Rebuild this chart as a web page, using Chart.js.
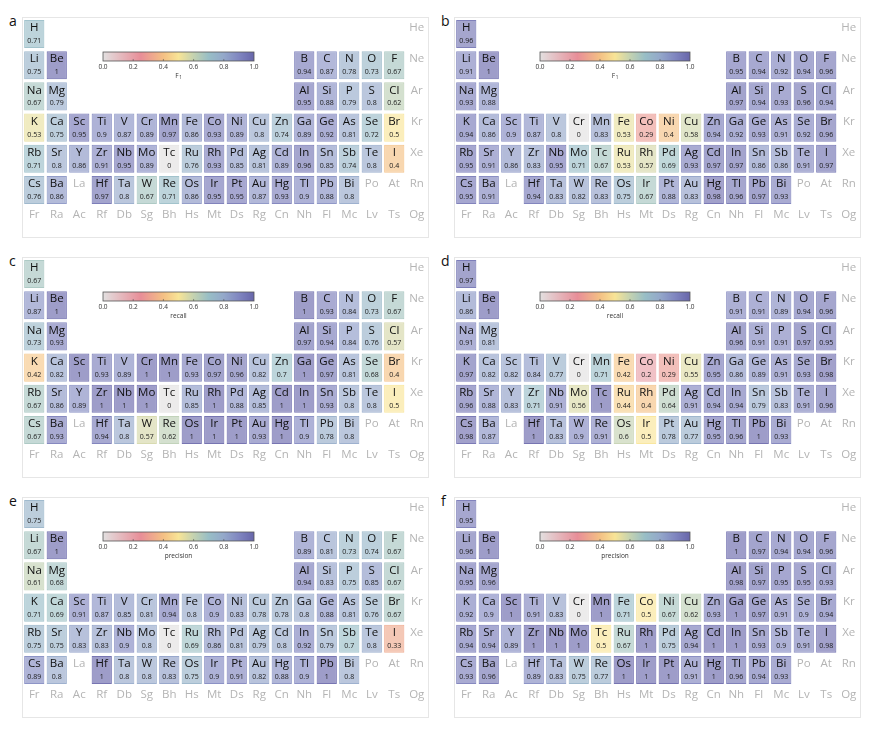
<!DOCTYPE html>
<html>
<head>
<meta charset="utf-8">
<script src="https://cdn.jsdelivr.net/npm/chart.js@4.4.0/dist/chart.umd.min.js"></script>
<style>
  body { margin: 0; background: #fff; font-family: "Open Sans", sans-serif; }
  .panel { position: absolute; border: 1px solid #e6e6e6; width: 405px; height: 219px; }
  .panel canvas { display: block; }
  .tag { position: absolute; font-size: 14px; line-height: 14px; color: #111; }
</style>
</head>
<body>
<script>
// columns of the periodic table (groups 1..18)
const columns = ["1","2","3","4","5","6","7","8","9","10","11","12","13","14","15","16","17","18"];

// elements that carry a score, row by row
const symbols = [
  "H",
  "Li","Be","B","C","N","O","F",
  "Na","Mg","Al","Si","P","S","Cl",
  "K","Ca","Sc","Ti","V","Cr","Mn","Fe","Co","Ni","Cu","Zn","Ga","Ge","As","Se","Br",
  "Rb","Sr","Y","Zr","Nb","Mo","Tc","Ru","Rh","Pd","Ag","Cd","In","Sn","Sb","Te","I",
  "Cs","Ba","Hf","Ta","W","Re","Os","Ir","Pt","Au","Hg","Tl","Pb","Bi"
];
const groups = [
  1,
  1,2,13,14,15,16,17,
  1,2,13,14,15,16,17,
  1,2,3,4,5,6,7,8,9,10,11,12,13,14,15,16,17,
  1,2,3,4,5,6,7,8,9,10,11,12,13,14,15,16,17,
  1,2,4,5,6,7,8,9,10,11,12,13,14,15
];
const periods = [
  1,
  2,2,2,2,2,2,2,
  3,3,3,3,3,3,3,
  4,4,4,4,4,4,4,4,4,4,4,4,4,4,4,4,4,
  5,5,5,5,5,5,5,5,5,5,5,5,5,5,5,5,5,
  6,6,6,6,6,6,6,6,6,6,6,6,6,6
];

// elements without a score (grey labels only)
const ghostSymbols = ["He","Ne","Ar","Kr","Xe","La","Po","At","Rn",
  "Fr","Ra","Ac","Rf","Db","Sg","Bh","Hs","Mt","Ds","Rg","Cn","Nh","Fl","Mc","Lv","Ts","Og"];
const ghostGroups = [18,18,18,18,18,3,16,17,18,
  1,2,3,4,5,6,7,8,9,10,11,12,13,14,15,16,17,18];
const ghostPeriods = [1,2,3,4,5,6,6,6,6,
  7,7,7,7,7,7,7,7,7,7,7,7,7,7,7,7,7,7];

// scores
const f1A = [
  0.71,
  0.75,1,0.94,0.87,0.78,0.73,0.67,
  0.67,0.79,0.95,0.88,0.79,0.8,0.62,
  0.53,0.75,0.95,0.9,0.87,0.89,0.97,0.86,0.93,0.89,0.8,0.74,0.89,0.92,0.81,0.72,0.5,
  0.71,0.8,0.86,0.91,0.95,0.89,0,0.76,0.93,0.85,0.81,0.89,0.96,0.85,0.74,0.8,0.4,
  0.76,0.86,0.97,0.8,0.67,0.71,0.86,0.95,0.95,0.87,0.93,0.9,0.88,0.8
];
const f1B = [
  0.96,
  0.91,1,0.95,0.94,0.92,0.94,0.96,
  0.93,0.88,0.97,0.94,0.93,0.96,0.94,
  0.94,0.86,0.9,0.87,0.8,0,0.83,0.53,0.29,0.4,0.58,0.94,0.92,0.93,0.91,0.92,0.96,
  0.95,0.91,0.86,0.83,0.95,0.71,0.67,0.53,0.57,0.69,0.93,0.97,0.97,0.86,0.86,0.91,0.97,
  0.95,0.91,0.94,0.83,0.82,0.83,0.75,0.67,0.88,0.83,0.98,0.96,0.97,0.93
];
const recallC = [
  0.67,
  0.87,1,1,0.93,0.84,0.73,0.67,
  0.73,0.93,0.97,0.94,0.84,0.76,0.57,
  0.42,0.82,1,0.93,0.89,1,1,0.93,0.97,0.96,0.82,0.7,1,0.97,0.81,0.68,0.4,
  0.67,0.86,0.89,1,1,1,0,0.85,1,0.88,0.85,1,1,0.93,0.8,0.8,0.5,
  0.67,0.93,0.94,0.8,0.57,0.62,1,1,1,0.93,1,0.9,0.78,0.8
];
const recallD = [
  0.97,
  0.86,1,0.91,0.91,0.89,0.94,0.96,
  0.91,0.81,0.96,0.91,0.91,0.97,0.95,
  0.97,0.82,0.82,0.84,0.77,0,0.71,0.42,0.2,0.29,0.55,0.95,0.86,0.89,0.91,0.93,0.98,
  0.96,0.88,0.83,0.71,0.91,0.56,1,0.44,0.4,0.64,0.91,0.94,0.94,0.79,0.83,0.91,0.96,
  0.98,0.87,1,0.83,0.9,0.91,0.6,0.5,0.78,0.77,0.95,0.96,1,0.93
];
const precisionE = [
  0.75,
  0.67,1,0.89,0.81,0.73,0.74,0.67,
  0.61,0.68,0.94,0.83,0.75,0.85,0.67,
  0.71,0.69,0.91,0.87,0.85,0.81,0.94,0.8,0.9,0.83,0.78,0.78,0.8,0.88,0.81,0.76,0.67,
  0.75,0.75,0.83,0.83,0.9,0.8,0,0.69,0.86,0.81,0.79,0.8,0.92,0.79,0.7,0.8,0.33,
  0.89,0.8,1,0.8,0.8,0.83,0.75,0.9,0.91,0.82,0.88,0.9,1,0.8
];
const precisionF = [
  0.95,
  0.96,1,1,0.97,0.94,0.94,0.96,
  0.95,0.96,0.98,0.97,0.95,0.95,0.93,
  0.92,0.9,1,0.91,0.83,0,1,0.71,0.5,0.67,0.62,0.93,1,0.97,0.91,0.9,0.94,
  0.94,0.94,0.89,1,1,1,0.5,0.67,1,0.75,0.94,1,1,0.93,0.9,0.91,0.98,
  0.93,0.96,0.89,0.83,0.75,0.77,1,1,1,0.91,1,0.96,0.94,0.93
];

const colorbarTicks = [0, 0.2, 0.4, 0.6, 0.8, 1];

// colormap: grey -> pink -> peach -> yellow -> sage -> teal -> slate -> purple
const cmap = [
  [0.0, [226, 224, 224]],
  [0.25, [232, 142, 152]],
  [0.4, [244, 192, 132]],
  [0.5, [248, 228, 150]],
  [0.6, [196, 210, 176]],
  [0.7, [152, 190, 198]],
  [0.8, [148, 168, 202]],
  [0.9, [128, 134, 192]],
  [1.0, [104, 102, 170]]
];
function colorAt(v) {
  for (let i = 1; i < cmap.length; i++) {
    if (v <= cmap[i][0]) {
      const [a, ca] = cmap[i - 1], [b, cb] = cmap[i];
      const t = (v - a) / (b - a);
      return ca.map((c, k) => Math.round(c + (cb[k] - c) * t));
    }
  }
  return cmap[cmap.length - 1][1];
}
const rgba = (c, a) => `rgba(${c[0]},${c[1]},${c[2]},${a})`;

// row positions used for the colour bar (in period units)
const CB_TOP = 1.577, CB_BOT = 1.865, CB_LABEL = 2.05, CB_TITLE = 2.34;

function tablePlugin(values, title, cbar) {
  return {
    id: "tableText",
    afterDatasetsDraw(chart) {
      const { ctx, scales: { x, y } } = chart;
      ctx.save();
      ctx.textAlign = "center";
      ctx.textBaseline = "middle";

      // symbols + scores
      values.forEach((v, i) => {
        const px = x.getPixelForValue(groups[i] - 1);
        const py = y.getPixelForValue(periods[i]);
        ctx.fillStyle = "#111";
        ctx.font = '11.5px "Open Sans"';
        ctx.fillText(symbols[i], px, py - 6);
        ctx.fillStyle = "#1a1a1a";
        ctx.font = '7px "Open Sans"';
        ctx.fillText(String(v), px, py + 7);
      });

      // grey labels
      ctx.fillStyle = "#b4b4b4";
      ctx.font = '11.5px "Open Sans"';
      ghostSymbols.forEach((s, i) => {
        ctx.fillText(s, x.getPixelForValue(ghostGroups[i] - 1), y.getPixelForValue(ghostPeriods[i]) - 6);
      });

      // colour bar
      const x0 = x.getPixelForValue(cbar[0]), x1 = x.getPixelForValue(cbar[1]);
      const y0 = y.getPixelForValue(CB_TOP), y1 = y.getPixelForValue(CB_BOT);
      const grad = ctx.createLinearGradient(x0, 0, x1, 0);
      cmap.forEach(([s, c]) => grad.addColorStop(s, rgba(c, 1)));
      ctx.fillStyle = grad;
      ctx.fillRect(x0, y0, x1 - x0, y1 - y0);
      ctx.strokeStyle = "#555";
      ctx.lineWidth = 0.8;
      ctx.strokeRect(x0, y0, x1 - x0, y1 - y0);

      const yl = y.getPixelForValue(CB_LABEL);
      ctx.fillStyle = "#333";
      ctx.font = '6.5px "Open Sans"';
      colorbarTicks.forEach(t => {
        const tx = x0 + t * (x1 - x0);
        if (t > 0 && t < 1) {
          ctx.beginPath();
          ctx.moveTo(tx, y1);
          ctx.lineTo(tx, y1 - 2);
          ctx.lineWidth = 0.6;
          ctx.stroke();
        }
        ctx.fillText(t.toFixed(1), tx, yl);
      });

      const yt = y.getPixelForValue(CB_TITLE);
      const xm = (x0 + x1) / 2;
      if (title === "F1") {
        ctx.font = '6.5px "Open Sans"';
        ctx.fillText("F", xm - 1.5, yt);
        ctx.font = '4.5px "Open Sans"';
        ctx.fillText("1", xm + 2, yt + 1.5);
      } else {
        ctx.font = '6.5px "Open Sans"';
        ctx.fillText(title, xm, yt);
      }
      ctx.restore();
    }
  };
}

const panels = [
  { tag: "a", values: f1A, title: "F1", left: 23, top: 18, cbar: [3.056, 9.767] },
  { tag: "b", values: f1B, title: "F1", left: 455, top: 18, cbar: [3.278, 9.944] },
  { tag: "c", values: recallC, title: "recall", left: 23, top: 258, cbar: [3.056, 9.767] },
  { tag: "d", values: recallD, title: "recall", left: 455, top: 258, cbar: [3.278, 9.944] },
  { tag: "e", values: precisionE, title: "precision", left: 23, top: 498, cbar: [3.056, 9.767] },
  { tag: "f", values: precisionF, title: "precision", left: 455, top: 498, cbar: [3.278, 9.944] }
];

panels.forEach(p => {
  const box = document.createElement("div");
  box.className = "panel";
  box.style.left = (p.left - 1) + "px";
  box.style.top = (p.top - 1) + "px";
  const canvas = document.createElement("canvas");
  canvas.width = 405;
  canvas.height = 219;
  box.appendChild(canvas);
  document.body.appendChild(box);

  const tag = document.createElement("div");
  tag.className = "tag";
  tag.textContent = p.tag;
  tag.style.left = (p.left - 14) + "px";
  tag.style.top = (p.top - 4) + "px";
  document.body.appendChild(tag);

  new Chart(canvas, {
    type: "bar",
    data: {
      labels: columns,
      datasets: [{
        data: p.values.map((v, i) => ({ x: String(groups[i]), y: [periods[i] - 0.45, periods[i] + 0.45] })),
        backgroundColor: p.values.map(v => rgba(colorAt(v), 0.64)),
        borderColor: p.values.map(v => rgba(colorAt(v), 0.9)),
        borderWidth: 1,
        borderSkipped: false,
        categoryPercentage: 1,
        barPercentage: 0.9
      }]
    },
    options: {
      responsive: false,
      animation: false,
      layout: { padding: 0 },
      plugins: { legend: { display: false }, tooltip: { enabled: false } },
      scales: {
        x: { type: "category", display: false },
        y: { type: "linear", display: false, reverse: true, min: 0.487, max: 7.506 }
      }
    },
    plugins: [tablePlugin(p.values, p.title, p.cbar)]
  });
});
</script>
</body>
</html>
